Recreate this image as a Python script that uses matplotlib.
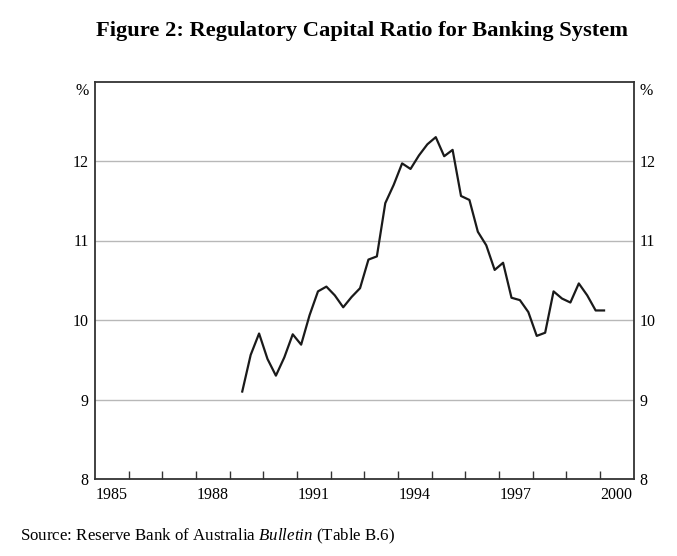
import matplotlib
matplotlib.use("Agg")
import matplotlib.pyplot as plt
import numpy as np

start_year = 1989.375
values = [9.10, 9.56, 9.83, 9.51, 9.30, 9.53, 9.82, 9.69, 10.06, 10.36,
          10.42, 10.31, 10.16, 10.29, 10.40, 10.76, 10.80, 11.47, 11.70, 11.97,
          11.90, 12.07, 12.21, 12.30, 12.06, 12.14, 11.56, 11.51, 11.11, 10.94,
          10.63, 10.72, 10.28, 10.25, 10.10, 9.80, 9.84, 10.36, 10.27, 10.22,
          10.46, 10.31, 10.12, 10.12]
x_tick_labels = ["1985", "1988", "1991", "1994", "1997", "2000"]
y_ticks = [8, 9, 10, 11, 12]

dates = start_year + 0.25 * np.arange(len(values))

plt.rcParams['font.family'] = ['Liberation Serif', 'DejaVu Serif']
plt.rcParams['mathtext.fontset'] = 'custom'
plt.rcParams['mathtext.rm'] = 'Liberation Serif'
plt.rcParams['mathtext.it'] = 'Liberation Serif:italic'

fig = plt.figure(figsize=(6.77, 5.56), dpi=100)
ax = fig.add_axes([95/677, 1-479/556, (633.5-95)/677, (479-81.5)/556])

ax.set_xlim(1985, 2001)
ax.set_ylim(8, 13)

for y in [9, 10, 11, 12]:
    ax.axhline(y, color='#b8b8b8', lw=1.0, zorder=1)

ax.plot(dates, values, color='#1a1a1a', lw=1.6, zorder=3)

ax.set_xticks(np.arange(1986, 2001), minor=False)
ax.set_xticklabels([])
ax.tick_params(axis='x', which='major', direction='in', length=6, width=1.0, color='#333333')
ax.set_xticks([int(l) + 0.5 for l in x_tick_labels], minor=True)
ax.set_xticklabels(x_tick_labels, minor=True, fontsize=11.5)
ax.tick_params(axis='x', which='minor', length=0, pad=6)

ax.set_yticks(y_ticks)
ax.set_yticklabels([str(v) for v in y_ticks], fontsize=11.5)
ax.tick_params(axis='y', which='both', length=0, pad=4.5, labelleft=True, labelright=True)

for s in ax.spines.values():
    s.set_color('#333333')
    s.set_linewidth(1.3)

ax.text(-0.011, 0.995, '%', transform=ax.transAxes, ha='right', va='top', fontsize=11.5)
ax.text(1.011, 0.995, '%', transform=ax.transAxes, ha='left', va='top', fontsize=11.5)

fig.text(362/677, 1-31/556, 'Figure 2: Regulatory Capital Ratio for Banking System',
         ha='center', va='center', fontsize=16.2, fontweight='bold')

fig.text(20/677, 1-536/556, r'Source: Reserve Bank of Australia $\mathit{Bulletin}$ (Table B.6)',
         ha='left', va='center', fontsize=12.2)

fig.savefig('out.png', dpi=100)
